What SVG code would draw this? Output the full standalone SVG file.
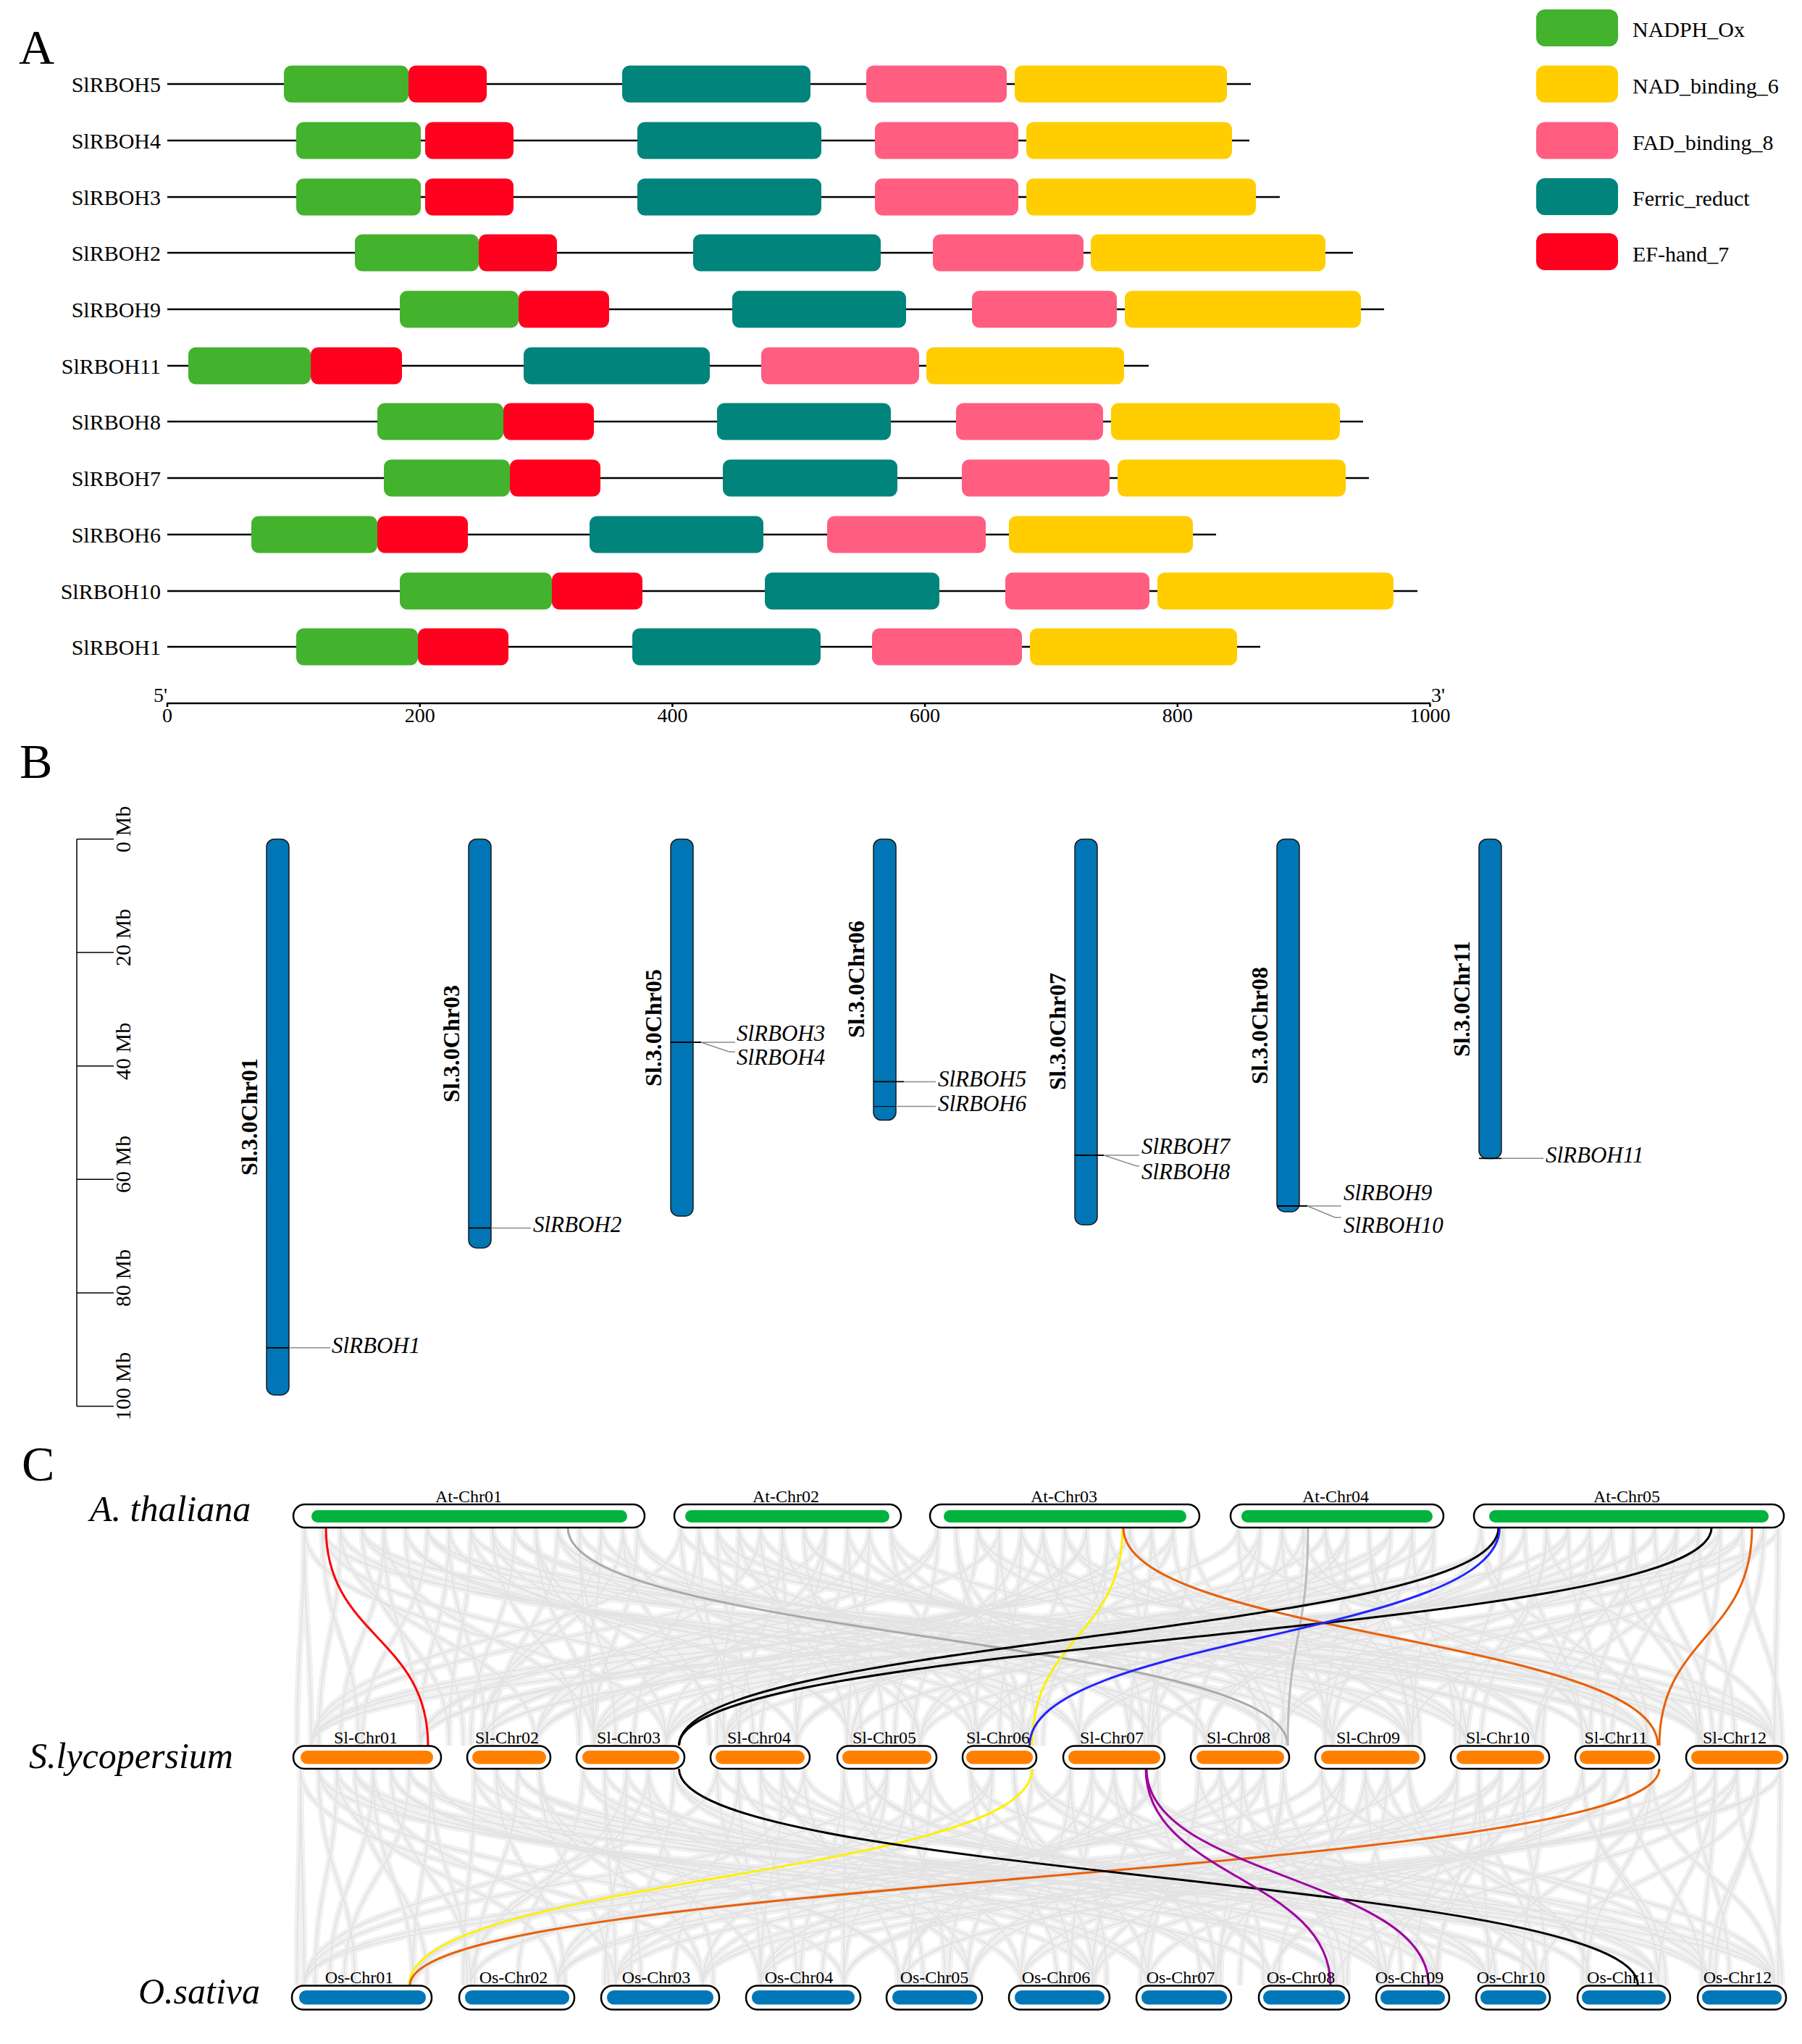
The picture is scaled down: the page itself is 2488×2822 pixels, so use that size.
<svg xmlns="http://www.w3.org/2000/svg" xmlns:xlink="http://www.w3.org/1999/xlink" width="2488" height="2822" viewBox="0 0 2488 2822">
<style>
text{font-family:"Liberation Serif","Times New Roman",serif;fill:#000}
.pl{font-size:68px}
.ra{font-size:30px;text-anchor:end}
.lg{font-size:30px}
.ax{font-size:28px;text-anchor:middle}
.bl{stroke:#000;stroke-width:2.5;fill:none}
.g{fill:#43B22D}.r{fill:#FF001E}.t{fill:#00847B}.p{fill:#FF5E80}.y{fill:#FFCD00}
.chr{fill:#0076B6;stroke:#1a1a1a;stroke-width:1.5}
.cl{font-size:32px;font-weight:bold;text-anchor:middle}
.gl{font-size:31px;font-style:italic}
.mb{font-size:30px}
.gk{stroke:#000;stroke-width:1.8}
.gc{stroke:#8c8c8c;stroke-width:1.5;fill:none}
.sp{font-size:50px;font-style:italic}
.cn{font-size:24px;text-anchor:middle}
.ob{fill:#fff;stroke:#000;stroke-width:2.5}
.at{fill:#00B33C}.sl{fill:#FF8000}.os{fill:#0077B7}
.bgw{fill:none;stroke:#f1f1f1;stroke-width:9}
.bgt{fill:none;stroke:#e3e3e3;stroke-width:2}
.cc{fill:none;stroke-width:3}
</style>
<defs>
<path id="b1a" d="M420 2109C420 2260 430 2260 430 2410M445 2109C445 2260 1100 2260 1100 2410M470 2109C470 2260 1665 2260 1665 2410M500 2109C500 2260 2275 2260 2275 2410M530 2109C530 2260 820 2260 820 2410M560 2109C560 2260 1415 2260 1415 2410M590 2109C590 2260 2025 2260 2025 2410M620 2109C620 2260 580 2260 580 2410M650 2109C650 2260 1175 2260 1175 2410M680 2109C680 2260 1760 2260 1760 2410M710 2109C710 2260 2350 2260 2350 2410M740 2109C740 2260 920 2260 920 2410M770 2109C770 2260 1490 2260 1490 2410M800 2109C800 2260 2120 2260 2120 2410M830 2109C830 2260 665 2260 665 2410M860 2109C860 2260 1270 2260 1270 2410M880 2109C880 2260 1840 2260 1840 2410M940 2109C940 2260 2450 2260 2450 2410M965 2109C965 2260 1000 2260 1000 2410M990 2109C990 2260 1590 2260 1590 2410M1020 2109C1020 2260 2195 2260 2195 2410M1050 2109C1050 2260 740 2260 740 2410M1080 2109C1080 2260 1345 2260 1345 2410M1110 2109C1110 2260 1945 2260 1945 2410M1140 2109C1140 2260 430 2260 430 2410M1170 2109C1170 2260 1100 2260 1100 2410M1200 2109C1200 2260 1665 2260 1665 2410M1230 2109C1230 2260 2275 2260 2275 2410M1295 2109C1295 2260 820 2260 820 2410M1320 2109C1320 2260 1415 2260 1415 2410M1350 2109C1350 2260 2025 2260 2025 2410M1380 2109C1380 2260 580 2260 580 2410M1410 2109C1410 2260 1175 2260 1175 2410M1440 2109C1440 2260 1760 2260 1760 2410M1470 2109C1470 2260 2350 2260 2350 2410M1500 2109C1500 2260 920 2260 920 2410M1530 2109C1530 2260 1490 2260 1490 2410M1560 2109C1560 2260 2120 2260 2120 2410M1590 2109C1590 2260 665 2260 665 2410M1620 2109C1620 2260 1270 2260 1270 2410M1645 2109C1645 2260 1840 2260 1840 2410M1710 2109C1710 2260 2450 2260 2450 2410M1740 2109C1740 2260 1000 2260 1000 2410M1770 2109C1770 2260 1590 2260 1590 2410M1800 2109C1800 2260 2195 2260 2195 2410M1830 2109C1830 2260 740 2260 740 2410M1860 2109C1860 2260 1345 2260 1345 2410M1890 2109C1890 2260 1945 2260 1945 2410M1920 2109C1920 2260 430 2260 430 2410M1950 2109C1950 2260 1100 2260 1100 2410M1980 2109C1980 2260 1665 2260 1665 2410M2045 2109C2045 2260 2275 2260 2275 2410M2075 2109C2075 2260 820 2260 820 2410M2105 2109C2105 2260 1415 2260 1415 2410M2135 2109C2135 2260 2025 2260 2025 2410M2165 2109C2165 2260 580 2260 580 2410M2195 2109C2195 2260 1175 2260 1175 2410M2225 2109C2225 2260 1760 2260 1760 2410M2255 2109C2255 2260 2350 2260 2350 2410M2285 2109C2285 2260 920 2260 920 2410M2315 2109C2315 2260 1490 2260 1490 2410M2345 2109C2345 2260 2120 2260 2120 2410M2375 2109C2375 2260 665 2260 665 2410M2405 2109C2405 2260 1270 2260 1270 2410M2435 2109C2435 2260 1840 2260 1840 2410M2455 2109C2455 2260 2450 2260 2450 2410"/>
<path id="b1b" d="M420 2109C420 2260 920 2260 920 2410M445 2109C445 2260 1840 2260 1840 2410M470 2109C470 2260 740 2260 740 2410M500 2109C500 2260 1665 2260 1665 2410M530 2109C530 2260 580 2260 580 2410M560 2109C560 2260 1490 2260 1490 2410M590 2109C590 2260 2450 2260 2450 2410M620 2109C620 2260 1345 2260 1345 2410M650 2109C650 2260 2275 2260 2275 2410M680 2109C680 2260 1175 2260 1175 2410M710 2109C710 2260 2120 2260 2120 2410M740 2109C740 2260 1000 2260 1000 2410M770 2109C770 2260 1945 2260 1945 2410M800 2109C800 2260 820 2260 820 2410M830 2109C830 2260 1760 2260 1760 2410M860 2109C860 2260 665 2260 665 2410M880 2109C880 2260 1590 2260 1590 2410M940 2109C940 2260 430 2260 430 2410M965 2109C965 2260 1415 2260 1415 2410M990 2109C990 2260 2350 2260 2350 2410M1020 2109C1020 2260 1270 2260 1270 2410M1050 2109C1050 2260 2195 2260 2195 2410M1080 2109C1080 2260 1100 2260 1100 2410M1110 2109C1110 2260 2025 2260 2025 2410M1140 2109C1140 2260 920 2260 920 2410M1170 2109C1170 2260 1840 2260 1840 2410M1200 2109C1200 2260 740 2260 740 2410M1230 2109C1230 2260 1665 2260 1665 2410M1295 2109C1295 2260 580 2260 580 2410M1320 2109C1320 2260 1490 2260 1490 2410M1350 2109C1350 2260 2450 2260 2450 2410M1380 2109C1380 2260 1345 2260 1345 2410M1410 2109C1410 2260 2275 2260 2275 2410M1440 2109C1440 2260 1175 2260 1175 2410M1470 2109C1470 2260 2120 2260 2120 2410M1500 2109C1500 2260 1000 2260 1000 2410M1530 2109C1530 2260 1945 2260 1945 2410M1560 2109C1560 2260 820 2260 820 2410M1590 2109C1590 2260 1760 2260 1760 2410M1620 2109C1620 2260 665 2260 665 2410M1645 2109C1645 2260 1590 2260 1590 2410M1710 2109C1710 2260 430 2260 430 2410M1740 2109C1740 2260 1415 2260 1415 2410M1770 2109C1770 2260 2350 2260 2350 2410M1800 2109C1800 2260 1270 2260 1270 2410M1830 2109C1830 2260 2195 2260 2195 2410M1860 2109C1860 2260 1100 2260 1100 2410M1890 2109C1890 2260 2025 2260 2025 2410M1920 2109C1920 2260 920 2260 920 2410M1950 2109C1950 2260 1840 2260 1840 2410M1980 2109C1980 2260 740 2260 740 2410M2045 2109C2045 2260 1665 2260 1665 2410M2075 2109C2075 2260 580 2260 580 2410M2105 2109C2105 2260 1490 2260 1490 2410M2135 2109C2135 2260 2450 2260 2450 2410M2165 2109C2165 2260 1345 2260 1345 2410M2195 2109C2195 2260 2275 2260 2275 2410M2225 2109C2225 2260 1175 2260 1175 2410M2255 2109C2255 2260 2120 2260 2120 2410M2285 2109C2285 2260 1000 2260 1000 2410M2315 2109C2315 2260 1945 2260 1945 2410M2345 2109C2345 2260 820 2260 820 2410M2375 2109C2375 2260 1760 2260 1760 2410M2405 2109C2405 2260 665 2260 665 2410M2435 2109C2435 2260 1590 2260 1590 2410M2455 2109C2455 2260 430 2260 430 2410"/>
<path id="b1c" d="M420 2109C420 2260 410 2260 410 2410M445 2109C445 2260 495 2260 495 2410M470 2109C470 2260 440 2260 440 2410M500 2109C500 2260 620 2260 620 2410M530 2109C530 2260 470 2260 470 2410M560 2109C560 2260 640 2260 640 2410M590 2109C590 2260 500 2260 500 2410M620 2109C620 2260 670 2260 670 2410M650 2109C650 2260 620 2260 620 2410M680 2109C680 2260 800 2260 800 2410M710 2109C710 2260 650 2260 650 2410M740 2109C740 2260 820 2260 820 2410M770 2109C770 2260 680 2260 680 2410M800 2109C800 2260 850 2260 850 2410M830 2109C830 2260 800 2260 800 2410M860 2109C860 2260 980 2260 980 2410M880 2109C880 2260 820 2260 820 2410M940 2109C940 2260 1020 2260 1020 2410M965 2109C965 2260 875 2260 875 2410M990 2109C990 2260 1040 2260 1040 2410M1020 2109C1020 2260 990 2260 990 2410M1050 2109C1050 2260 1170 2260 1170 2410M1080 2109C1080 2260 1020 2260 1020 2410M1110 2109C1110 2260 1190 2260 1190 2410M1140 2109C1140 2260 1050 2260 1050 2410M1170 2109C1170 2260 1220 2260 1220 2410M1200 2109C1200 2260 1170 2260 1170 2410M1230 2109C1230 2260 1350 2260 1350 2410M1295 2109C1295 2260 1235 2260 1235 2410M1320 2109C1320 2260 1400 2260 1400 2410M1350 2109C1350 2260 1260 2260 1260 2410M1380 2109C1380 2260 1430 2260 1430 2410M1410 2109C1410 2260 1380 2260 1380 2410M1440 2109C1440 2260 1560 2260 1560 2410M1470 2109C1470 2260 1410 2260 1410 2410M1500 2109C1500 2260 1580 2260 1580 2410M1530 2109C1530 2260 1440 2260 1440 2410M1560 2109C1560 2260 1600 2260 1600 2410M1590 2109C1590 2260 1560 2260 1560 2410M1620 2109C1620 2260 1740 2260 1740 2410M1645 2109C1645 2260 1585 2260 1585 2410M1710 2109C1710 2260 1775 2260 1775 2410M1740 2109C1740 2260 1650 2260 1650 2410M1770 2109C1770 2260 1830 2260 1830 2410M1800 2109C1800 2260 1770 2260 1770 2410M1830 2109C1830 2260 1950 2260 1950 2410M1860 2109C1860 2260 1830 2260 1830 2410M1890 2109C1890 2260 1960 2260 1960 2410M1920 2109C1920 2260 1830 2260 1830 2410M1950 2109C1950 2260 2010 2260 2010 2410M1980 2109C1980 2260 1950 2260 1950 2410M2045 2109C2045 2260 2185 2260 2185 2410M2075 2109C2075 2260 2015 2260 2015 2410M2105 2109C2105 2260 2185 2260 2185 2410M2135 2109C2135 2260 2045 2260 2045 2410M2165 2109C2165 2260 2215 2260 2215 2410M2195 2109C2195 2260 2130 2260 2130 2410M2225 2109C2225 2260 2345 2260 2345 2410M2255 2109C2255 2260 2195 2260 2195 2410M2285 2109C2285 2260 2365 2260 2365 2410M2315 2109C2315 2260 2225 2260 2225 2410M2345 2109C2345 2260 2395 2260 2395 2410M2375 2109C2375 2260 2345 2260 2345 2410M2405 2109C2405 2260 2460 2260 2460 2410M2435 2109C2435 2260 2375 2260 2375 2410M2455 2109C2455 2260 2450 2260 2450 2410"/>
<path id="b2a" d="M415 2442C415 2592 420 2592 420 2741M440 2442C440 2592 1165 2592 1165 2741M465 2442C465 2592 1755 2592 1755 2741M490 2442C490 2592 2290 2592 2290 2741M515 2442C515 2592 850 2592 850 2741M540 2442C540 2592 1510 2592 1510 2741M565 2442C565 2592 2055 2592 2055 2741M595 2442C595 2592 570 2592 570 2741M655 2442C655 2592 1245 2592 1245 2741M685 2442C685 2592 1845 2592 1845 2741M715 2442C715 2592 2360 2592 2360 2741M745 2442C745 2592 970 2592 970 2741M805 2442C805 2592 1585 2592 1585 2741M835 2442C835 2592 2125 2592 2125 2741M865 2442C865 2592 650 2592 650 2741M895 2442C895 2592 1340 2592 1340 2741M930 2442C930 2592 1915 2592 1915 2741M990 2442C990 2592 2450 2592 2450 2741M1020 2442C1020 2592 1050 2592 1050 2741M1050 2442C1050 2592 1680 2592 1680 2741M1080 2442C1080 2592 2195 2592 2195 2741M1110 2442C1110 2592 770 2592 770 2741M1165 2442C1165 2592 1410 2592 1410 2741M1195 2442C1195 2592 1985 2592 1985 2741M1225 2442C1225 2592 420 2592 420 2741M1255 2442C1255 2592 1165 2592 1165 2741M1285 2442C1285 2592 1755 2592 1755 2741M1340 2442C1340 2592 2290 2592 2290 2741M1370 2442C1370 2592 850 2592 850 2741M1400 2442C1400 2592 1510 2592 1510 2741M1425 2442C1425 2592 2055 2592 2055 2741M1478 2442C1478 2592 570 2592 570 2741M1508 2442C1508 2592 1245 2592 1245 2741M1538 2442C1538 2592 1845 2592 1845 2741M1568 2442C1568 2592 2360 2592 2360 2741M1598 2442C1598 2592 970 2592 970 2741M1655 2442C1655 2592 1585 2592 1585 2741M1685 2442C1685 2592 2125 2592 2125 2741M1715 2442C1715 2592 650 2592 650 2741M1745 2442C1745 2592 1340 2592 1340 2741M1772 2442C1772 2592 1915 2592 1915 2741M1825 2442C1825 2592 2450 2592 2450 2741M1855 2442C1855 2592 1050 2592 1050 2741M1885 2442C1885 2592 1680 2592 1680 2741M1915 2442C1915 2592 2195 2592 2195 2741M1945 2442C1945 2592 770 2592 770 2741M2012 2442C2012 2592 1410 2592 1410 2741M2042 2442C2042 2592 1985 2592 1985 2741M2072 2442C2072 2592 420 2592 420 2741M2102 2442C2102 2592 1165 2592 1165 2741M2132 2442C2132 2592 1755 2592 1755 2741M2185 2442C2185 2592 2290 2592 2290 2741M2215 2442C2215 2592 850 2592 850 2741M2245 2442C2245 2592 1510 2592 1510 2741M2280 2442C2280 2592 2055 2592 2055 2741M2338 2442C2338 2592 570 2592 570 2741M2368 2442C2368 2592 1245 2592 1245 2741M2398 2442C2398 2592 1845 2592 1845 2741M2428 2442C2428 2592 2360 2592 2360 2741M2458 2442C2458 2592 970 2592 970 2741"/>
<path id="b2b" d="M415 2442C415 2592 970 2592 970 2741M440 2442C440 2592 1915 2592 1915 2741M465 2442C465 2592 770 2592 770 2741M490 2442C490 2592 1755 2592 1755 2741M515 2442C515 2592 570 2592 570 2741M540 2442C540 2592 1585 2592 1585 2741M565 2442C565 2592 2450 2592 2450 2741M595 2442C595 2592 1410 2592 1410 2741M655 2442C655 2592 2290 2592 2290 2741M685 2442C685 2592 1245 2592 1245 2741M715 2442C715 2592 2125 2592 2125 2741M745 2442C745 2592 1050 2592 1050 2741M805 2442C805 2592 1985 2592 1985 2741M835 2442C835 2592 850 2592 850 2741M865 2442C865 2592 1845 2592 1845 2741M895 2442C895 2592 650 2592 650 2741M930 2442C930 2592 1680 2592 1680 2741M990 2442C990 2592 420 2592 420 2741M1020 2442C1020 2592 1510 2592 1510 2741M1050 2442C1050 2592 2360 2592 2360 2741M1080 2442C1080 2592 1340 2592 1340 2741M1110 2442C1110 2592 2195 2592 2195 2741M1165 2442C1165 2592 1165 2592 1165 2741M1195 2442C1195 2592 2055 2592 2055 2741M1225 2442C1225 2592 970 2592 970 2741M1255 2442C1255 2592 1915 2592 1915 2741M1285 2442C1285 2592 770 2592 770 2741M1340 2442C1340 2592 1755 2592 1755 2741M1370 2442C1370 2592 570 2592 570 2741M1400 2442C1400 2592 1585 2592 1585 2741M1425 2442C1425 2592 2450 2592 2450 2741M1478 2442C1478 2592 1410 2592 1410 2741M1508 2442C1508 2592 2290 2592 2290 2741M1538 2442C1538 2592 1245 2592 1245 2741M1568 2442C1568 2592 2125 2592 2125 2741M1598 2442C1598 2592 1050 2592 1050 2741M1655 2442C1655 2592 1985 2592 1985 2741M1685 2442C1685 2592 850 2592 850 2741M1715 2442C1715 2592 1845 2592 1845 2741M1745 2442C1745 2592 650 2592 650 2741M1772 2442C1772 2592 1680 2592 1680 2741M1825 2442C1825 2592 420 2592 420 2741M1855 2442C1855 2592 1510 2592 1510 2741M1885 2442C1885 2592 2360 2592 2360 2741M1915 2442C1915 2592 1340 2592 1340 2741M1945 2442C1945 2592 2195 2592 2195 2741M2012 2442C2012 2592 1165 2592 1165 2741M2042 2442C2042 2592 2055 2592 2055 2741M2072 2442C2072 2592 970 2592 970 2741M2102 2442C2102 2592 1915 2592 1915 2741M2132 2442C2132 2592 770 2592 770 2741M2185 2442C2185 2592 1755 2592 1755 2741M2215 2442C2215 2592 570 2592 570 2741M2245 2442C2245 2592 1585 2592 1585 2741M2280 2442C2280 2592 2450 2592 2450 2741M2338 2442C2338 2592 1410 2592 1410 2741M2368 2442C2368 2592 2290 2592 2290 2741M2398 2442C2398 2592 1245 2592 1245 2741M2428 2442C2428 2592 2125 2592 2125 2741M2458 2442C2458 2592 1050 2592 1050 2741"/>
<path id="b2c" d="M415 2442C415 2592 410 2592 410 2741M440 2442C440 2592 490 2592 490 2741M465 2442C465 2592 435 2592 435 2741M490 2442C490 2592 590 2592 590 2741M515 2442C515 2592 455 2592 455 2741M540 2442C540 2592 650 2592 650 2741M565 2442C565 2592 475 2592 475 2741M595 2442C595 2592 645 2592 645 2741M655 2442C655 2592 640 2592 640 2741M685 2442C685 2592 780 2592 780 2741M715 2442C715 2592 655 2592 655 2741M745 2442C745 2592 840 2592 840 2741M805 2442C805 2592 715 2592 715 2741M835 2442C835 2592 885 2592 885 2741M865 2442C865 2592 835 2592 835 2741M895 2442C895 2592 985 2592 985 2741M930 2442C930 2592 870 2592 870 2741M990 2442C990 2592 1070 2592 1070 2741M1020 2442C1020 2592 930 2592 930 2741M1050 2442C1050 2592 1100 2592 1100 2741M1080 2442C1080 2592 1050 2592 1050 2741M1110 2442C1110 2592 1240 2592 1240 2741M1165 2442C1165 2592 1105 2592 1105 2741M1195 2442C1195 2592 1275 2592 1275 2741M1225 2442C1225 2592 1135 2592 1135 2741M1255 2442C1255 2592 1305 2592 1305 2741M1285 2442C1285 2592 1255 2592 1255 2741M1340 2442C1340 2592 1460 2592 1460 2741M1370 2442C1370 2592 1310 2592 1310 2741M1400 2442C1400 2592 1480 2592 1480 2741M1425 2442C1425 2592 1335 2592 1335 2741M1478 2442C1478 2592 1528 2592 1528 2741M1508 2442C1508 2592 1478 2592 1478 2741M1538 2442C1538 2592 1658 2592 1658 2741M1568 2442C1568 2592 1508 2592 1508 2741M1598 2442C1598 2592 1678 2592 1678 2741M1655 2442C1655 2592 1575 2592 1575 2741M1685 2442C1685 2592 1745 2592 1745 2741M1715 2442C1715 2592 1685 2592 1685 2741M1745 2442C1745 2592 1855 2592 1855 2741M1772 2442C1772 2592 1712 2592 1712 2741M1825 2442C1825 2592 1905 2592 1905 2741M1855 2442C1855 2592 1765 2592 1765 2741M1885 2442C1885 2592 1935 2592 1935 2741M1915 2442C1915 2592 1860 2592 1860 2741M1945 2442C1945 2592 2065 2592 2065 2741M2012 2442C2012 2592 1952 2592 1952 2741M2042 2442C2042 2592 2122 2592 2122 2741M2072 2442C2072 2592 1982 2592 1982 2741M2102 2442C2102 2592 2135 2592 2135 2741M2132 2442C2132 2592 2102 2592 2102 2741M2185 2442C2185 2592 2300 2592 2300 2741M2215 2442C2215 2592 2185 2592 2185 2741M2245 2442C2245 2592 2350 2592 2350 2741M2280 2442C2280 2592 2190 2592 2190 2741M2338 2442C2338 2592 2388 2592 2388 2741M2368 2442C2368 2592 2350 2592 2350 2741M2398 2442C2398 2592 2460 2592 2460 2741M2428 2442C2428 2592 2368 2592 2368 2741M2458 2442C2458 2592 2455 2592 2455 2741"/>
</defs>

<!-- Panel labels -->
<text class="pl" x="26" y="88">A</text>
<text class="pl" x="27" y="1074">B</text>
<text class="pl" x="30" y="2044">C</text>

<!-- ============ Panel A ============ -->
<g id="panelA">
<g id="SlRBOH5"><text class="ra" x="222" y="127">SlRBOH5</text><line class="bl" x1="231" y1="116" x2="1727" y2="116"/>
<rect class="g" x="392" y="90.5" width="172" height="51" rx="10"/><rect class="r" x="564" y="90.5" width="108" height="51" rx="10"/><rect class="t" x="859" y="90.5" width="260" height="51" rx="10"/><rect class="p" x="1196" y="90.5" width="194" height="51" rx="10"/><rect class="y" x="1401" y="90.5" width="293" height="51" rx="10"/></g>
<g id="SlRBOH4"><text class="ra" x="222" y="205">SlRBOH4</text><line class="bl" x1="231" y1="194" x2="1725" y2="194"/>
<rect class="g" x="409" y="168.5" width="172" height="51" rx="10"/><rect class="r" x="587" y="168.5" width="122" height="51" rx="10"/><rect class="t" x="880" y="168.5" width="254" height="51" rx="10"/><rect class="p" x="1208" y="168.5" width="198" height="51" rx="10"/><rect class="y" x="1417" y="168.5" width="284" height="51" rx="10"/></g>
<g id="SlRBOH3"><text class="ra" x="222" y="283">SlRBOH3</text><line class="bl" x1="231" y1="272" x2="1767" y2="272"/>
<rect class="g" x="409" y="246.5" width="172" height="51" rx="10"/><rect class="r" x="587" y="246.5" width="122" height="51" rx="10"/><rect class="t" x="880" y="246.5" width="254" height="51" rx="10"/><rect class="p" x="1208" y="246.5" width="198" height="51" rx="10"/><rect class="y" x="1417" y="246.5" width="317" height="51" rx="10"/></g>
<g id="SlRBOH2"><text class="ra" x="222" y="360">SlRBOH2</text><line class="bl" x1="231" y1="349" x2="1868" y2="349"/>
<rect class="g" x="490" y="323.5" width="171" height="51" rx="10"/><rect class="r" x="661" y="323.5" width="108" height="51" rx="10"/><rect class="t" x="957" y="323.5" width="259" height="51" rx="10"/><rect class="p" x="1288" y="323.5" width="208" height="51" rx="10"/><rect class="y" x="1506" y="323.5" width="324" height="51" rx="10"/></g>
<g id="SlRBOH9"><text class="ra" x="222" y="438">SlRBOH9</text><line class="bl" x1="231" y1="427" x2="1911" y2="427"/>
<rect class="g" x="552" y="401.5" width="164" height="51" rx="10"/><rect class="r" x="716" y="401.5" width="125" height="51" rx="10"/><rect class="t" x="1011" y="401.5" width="240" height="51" rx="10"/><rect class="p" x="1342" y="401.5" width="200" height="51" rx="10"/><rect class="y" x="1553" y="401.5" width="326" height="51" rx="10"/></g>
<g id="SlRBOH11"><text class="ra" x="222" y="516">SlRBOH11</text><line class="bl" x1="231" y1="505" x2="1586" y2="505"/>
<rect class="g" x="260" y="479.5" width="169" height="51" rx="10"/><rect class="r" x="429" y="479.5" width="126" height="51" rx="10"/><rect class="t" x="723" y="479.5" width="257" height="51" rx="10"/><rect class="p" x="1051" y="479.5" width="218" height="51" rx="10"/><rect class="y" x="1279" y="479.5" width="273" height="51" rx="10"/></g>
<g id="SlRBOH8"><text class="ra" x="222" y="593">SlRBOH8</text><line class="bl" x1="231" y1="582" x2="1882" y2="582"/>
<rect class="g" x="521" y="556.5" width="174" height="51" rx="10"/><rect class="r" x="695" y="556.5" width="125" height="51" rx="10"/><rect class="t" x="990" y="556.5" width="240" height="51" rx="10"/><rect class="p" x="1320" y="556.5" width="203" height="51" rx="10"/><rect class="y" x="1534" y="556.5" width="316" height="51" rx="10"/></g>
<g id="SlRBOH7"><text class="ra" x="222" y="671">SlRBOH7</text><line class="bl" x1="231" y1="660" x2="1890" y2="660"/>
<rect class="g" x="530" y="634.5" width="174" height="51" rx="10"/><rect class="r" x="704" y="634.5" width="125" height="51" rx="10"/><rect class="t" x="998" y="634.5" width="241" height="51" rx="10"/><rect class="p" x="1328" y="634.5" width="204" height="51" rx="10"/><rect class="y" x="1543" y="634.5" width="315" height="51" rx="10"/></g>
<g id="SlRBOH6"><text class="ra" x="222" y="749">SlRBOH6</text><line class="bl" x1="231" y1="738" x2="1679" y2="738"/>
<rect class="g" x="347" y="712.5" width="174" height="51" rx="10"/><rect class="r" x="521" y="712.5" width="125" height="51" rx="10"/><rect class="t" x="814" y="712.5" width="240" height="51" rx="10"/><rect class="p" x="1142" y="712.5" width="219" height="51" rx="10"/><rect class="y" x="1393" y="712.5" width="254" height="51" rx="10"/></g>
<g id="SlRBOH10"><text class="ra" x="222" y="827">SlRBOH10</text><line class="bl" x1="231" y1="816" x2="1957" y2="816"/>
<rect class="g" x="552" y="790.5" width="210" height="51" rx="10"/><rect class="r" x="762" y="790.5" width="125" height="51" rx="10"/><rect class="t" x="1056" y="790.5" width="241" height="51" rx="10"/><rect class="p" x="1388" y="790.5" width="199" height="51" rx="10"/><rect class="y" x="1598" y="790.5" width="326" height="51" rx="10"/></g>
<g id="SlRBOH1"><text class="ra" x="222" y="904">SlRBOH1</text><line class="bl" x1="231" y1="893" x2="1740" y2="893"/>
<rect class="g" x="409" y="867.5" width="168" height="51" rx="10"/><rect class="r" x="577" y="867.5" width="125" height="51" rx="10"/><rect class="t" x="873" y="867.5" width="260" height="51" rx="10"/><rect class="p" x="1204" y="867.5" width="207" height="51" rx="10"/><rect class="y" x="1422" y="867.5" width="286" height="51" rx="10"/></g>

<g id="axisA">
<line class="bl" x1="230" y1="971" x2="1975" y2="971"/>
<path class="bl" d="M231 971V976M579.7 971V976M928.4 971V976M1277.1 971V976M1625.8 971V976M1974.5 971V976"/>
<text class="ax" x="231" y="997">0</text><text class="ax" x="579.7" y="997">200</text><text class="ax" x="928.4" y="997">400</text><text class="ax" x="1277.1" y="997">600</text><text class="ax" x="1625.8" y="997">800</text><text class="ax" x="1974.5" y="997">1000</text>
<text style="font-size:28px;text-anchor:end" x="231" y="969">5'</text>
<text style="font-size:28px" x="1976" y="969">3'</text>
</g>

<g id="legend">
<rect class="g" x="2121" y="13" width="113" height="51" rx="12"/><text class="lg" x="2254" y="51">NADPH_Ox</text>
<rect class="y" x="2121" y="90.5" width="113" height="51" rx="12"/><text class="lg" x="2254" y="129">NAD_binding_6</text>
<rect class="p" x="2121" y="168.5" width="113" height="51" rx="12"/><text class="lg" x="2254" y="207">FAD_binding_8</text>
<rect class="t" x="2121" y="246" width="113" height="51" rx="12"/><text class="lg" x="2254" y="284">Ferric_reduct</text>
<rect class="r" x="2121" y="322" width="113" height="51" rx="12"/><text class="lg" x="2254" y="361">EF-hand_7</text>
</g>
</g>

<!-- ============ Panel B ============ -->
<g id="panelB">
<g id="scale">
<path d="M106 1158.4V1941.6M106 1158.4H157M106 1315H157M106 1471.7H157M106 1628.3H157M106 1785H157M106 1941.6H157" stroke="#000" stroke-width="1.5" fill="none"/>
<text class="mb" transform="translate(180 1177) rotate(-90)">0 Mb</text>
<text class="mb" transform="translate(180 1334) rotate(-90)">20 Mb</text>
<text class="mb" transform="translate(180 1491) rotate(-90)">40 Mb</text>
<text class="mb" transform="translate(180 1647) rotate(-90)">60 Mb</text>
<text class="mb" transform="translate(180 1804) rotate(-90)">80 Mb</text>
<text class="mb" transform="translate(180 1961) rotate(-90)">100 Mb</text>
</g>
<g id="Chr01"><rect class="chr" x="368" y="1158.4" width="31" height="767.6" rx="11"/>
<text class="cl" transform="translate(355 1542) rotate(-90)">Sl.3.0Chr01</text>
<line class="gk" x1="368" y1="1860.8" x2="399" y2="1860.8"/><line class="gc" x1="399" y1="1860.8" x2="456" y2="1860.8"/>
<text class="gl" x="458" y="1868">SlRBOH1</text></g>
<g id="Chr03"><rect class="chr" x="647" y="1158.4" width="31" height="564.6" rx="11"/>
<text class="cl" transform="translate(634 1441) rotate(-90)">Sl.3.0Chr03</text>
<line class="gk" x1="647" y1="1695.4" x2="678" y2="1695.4"/><line class="gc" x1="678" y1="1695.4" x2="733" y2="1695.4"/>
<text class="gl" x="736" y="1701">SlRBOH2</text></g>
<g id="Chr05"><rect class="chr" x="926" y="1158.4" width="31" height="520.6" rx="11"/>
<text class="cl" transform="translate(913 1419) rotate(-90)">Sl.3.0Chr05</text>
<line class="gk" x1="926" y1="1439" x2="968" y2="1439"/><path class="gc" d="M968 1439H1015M968 1439L1007 1452.3H1015"/>
<text class="gl" x="1017" y="1437">SlRBOH3</text><text class="gl" x="1017" y="1470">SlRBOH4</text></g>
<g id="Chr06"><rect class="chr" x="1206" y="1158.4" width="31" height="388.2" rx="11"/>
<text class="cl" transform="translate(1193 1352) rotate(-90)">Sl.3.0Chr06</text>
<line class="gk" x1="1206" y1="1493.4" x2="1248" y2="1493.4"/><line class="gc" x1="1248" y1="1493.4" x2="1292" y2="1493.4"/>
<line class="gk" x1="1206" y1="1527.6" x2="1237" y2="1527.6" style="stroke-width:1"/><line class="gc" x1="1237" y1="1527.6" x2="1292" y2="1527.6"/>
<text class="gl" x="1295" y="1500">SlRBOH5</text><text class="gl" x="1295" y="1534">SlRBOH6</text></g>
<g id="Chr07"><rect class="chr" x="1484" y="1158.4" width="31" height="532.6" rx="11"/>
<text class="cl" transform="translate(1471 1424) rotate(-90)">Sl.3.0Chr07</text>
<line class="gk" x1="1484" y1="1595" x2="1524" y2="1595"/><path class="gc" d="M1524 1595H1573M1524 1595L1569 1609.7H1573"/>
<text class="gl" x="1576" y="1593">SlRBOH7</text><text class="gl" x="1576" y="1628">SlRBOH8</text></g>
<g id="Chr08"><rect class="chr" x="1763" y="1158.4" width="31" height="514.6" rx="11"/>
<text class="cl" transform="translate(1750 1416) rotate(-90)">Sl.3.0Chr08</text>
<line class="gk" x1="1763" y1="1665" x2="1805" y2="1665"/><path class="gc" d="M1805 1665H1851.7M1805 1665L1843 1680.7H1851.7"/>
<text class="gl" x="1855" y="1657">SlRBOH9</text><text class="gl" x="1855" y="1702">SlRBOH10</text></g>
<g id="Chr11"><rect class="chr" x="2042" y="1158.4" width="31" height="441" rx="11"/>
<text class="cl" transform="translate(2029 1379) rotate(-90)">Sl.3.0Chr11</text>
<line class="gk" x1="2042" y1="1599.3" x2="2073" y2="1599.3"/><line class="gc" x1="2073" y1="1599.3" x2="2131" y2="1599.3"/>
<text class="gl" x="2134" y="1605">SlRBOH11</text></g>
</g>

<!-- ============ Panel C ============ -->
<g id="panelC">
<text class="sp" x="124" y="2100">A. thaliana</text>
<text class="sp" x="40" y="2441">S.lycopersium</text>
<text class="sp" x="191" y="2766">O.sativa</text>

<g id="connectors">
<g id="synteny-bg-wide" class="bgw">
<use xlink:href="#b1a"/><use xlink:href="#b1b"/><use xlink:href="#b1c"/><use xlink:href="#b2a"/><use xlink:href="#b2b"/><use xlink:href="#b2c"/>
</g>
<g id="synteny-bg-thin" class="bgt">
<use xlink:href="#b1a"/><use xlink:href="#b1b"/><use xlink:href="#b1c"/><use xlink:href="#b2a"/><use xlink:href="#b2b"/><use xlink:href="#b2c"/>
</g>
<g id="synteny-highlight">
<path class="cc" stroke="#FF0000" d="M450 2109C450 2260 591 2260 591 2410"/>
<path class="cc" stroke="#AAAAAA" d="M784 2109C784 2260 1778 2260 1778 2410"/>
<path class="cc" stroke="#BBBBBB" stroke-width="2.5" d="M1806 2109C1806 2260 1778 2260 1778 2410"/>
<path class="cc" stroke="#FFF000" d="M1550 2109C1550 2260 1425 2260 1425 2410"/>
<path class="cc" stroke="#FFF000" d="M1425 2442C1425 2592 565 2592 565 2741"/>
<path class="cc" stroke="#E8600A" d="M1551 2109C1551 2260 2289 2260 2289 2410"/>
<path class="cc" stroke="#E8600A" d="M2419 2109C2419 2260 2291 2260 2291 2410"/>
<path class="cc" stroke="#E8600A" d="M2291 2442C2291 2592 566 2592 566 2741"/>
<path class="cc" stroke="#000" d="M2069 2109C2069 2260 937.5 2260 937.5 2410"/>
<path class="cc" stroke="#000" d="M2363 2109C2363 2260 937.5 2260 937.5 2410"/>
<path class="cc" stroke="#000" d="M937.5 2442C937.5 2592 2261.5 2592 2261.5 2741"/>
<path class="cc" stroke="#2424FF" d="M2070.5 2109C2070.5 2260 1421.5 2260 1421.5 2410"/>
<path class="cc" stroke="#A000A0" d="M1582 2442C1582 2592 1837 2592 1837 2741"/>
<path class="cc" stroke="#A000A0" d="M1583 2442C1583 2592 1972.5 2592 1972.5 2741"/>
</g>
</g>

<g id="At-chromosomes">
<g id="At-Chr01"><text class="cn" x="647" y="2074">At-Chr01</text><rect class="ob" x="405" y="2077" width="485" height="32" rx="16"/><rect class="at" x="430" y="2085" width="436" height="17" rx="8.5"/></g>
<g id="At-Chr02"><text class="cn" x="1085" y="2074">At-Chr02</text><rect class="ob" x="931" y="2077" width="313" height="32" rx="16"/><rect class="at" x="946" y="2085" width="282" height="17" rx="8.5"/></g>
<g id="At-Chr03"><text class="cn" x="1469" y="2074">At-Chr03</text><rect class="ob" x="1284" y="2077" width="372" height="32" rx="16"/><rect class="at" x="1303" y="2085" width="335" height="17" rx="8.5"/></g>
<g id="At-Chr04"><text class="cn" x="1844" y="2074">At-Chr04</text><rect class="ob" x="1699" y="2077" width="294" height="32" rx="16"/><rect class="at" x="1714" y="2085" width="264" height="17" rx="8.5"/></g>
<g id="At-Chr05"><text class="cn" x="2246" y="2074">At-Chr05</text><rect class="ob" x="2035" y="2077" width="428" height="32" rx="16"/><rect class="at" x="2056" y="2085" width="386" height="17" rx="8.5"/></g>
</g>

<g id="Sl-chromosomes">
<g id="Sl-Chr01"><text class="cn" x="505" y="2407">Sl-Chr01</text><rect class="ob" x="405" y="2410.5" width="204" height="31.5" rx="15.5"/><rect class="sl" x="415" y="2417" width="183" height="18.5" rx="9"/></g>
<g id="Sl-Chr02"><text class="cn" x="700" y="2407">Sl-Chr02</text><rect class="ob" x="645" y="2410.5" width="115" height="31.5" rx="15.5"/><rect class="sl" x="652" y="2417" width="102" height="18.5" rx="9"/></g>
<g id="Sl-Chr03"><text class="cn" x="868" y="2407">Sl-Chr03</text><rect class="ob" x="796" y="2410.5" width="149" height="31.5" rx="15.5"/><rect class="sl" x="804" y="2417" width="134" height="18.5" rx="9"/></g>
<g id="Sl-Chr04"><text class="cn" x="1048" y="2407">Sl-Chr04</text><rect class="ob" x="981" y="2410.5" width="137" height="31.5" rx="15.5"/><rect class="sl" x="988" y="2417" width="123" height="18.5" rx="9"/></g>
<g id="Sl-Chr05"><text class="cn" x="1221" y="2407">Sl-Chr05</text><rect class="ob" x="1156" y="2410.5" width="137" height="31.5" rx="15.5"/><rect class="sl" x="1163" y="2417" width="123" height="18.5" rx="9"/></g>
<g id="Sl-Chr06"><text class="cn" x="1378" y="2407">Sl-Chr06</text><rect class="ob" x="1329" y="2410.5" width="102" height="31.5" rx="15.5"/><rect class="sl" x="1334" y="2417" width="92" height="18.5" rx="9"/></g>
<g id="Sl-Chr07"><text class="cn" x="1535" y="2407">Sl-Chr07</text><rect class="ob" x="1468" y="2410.5" width="140" height="31.5" rx="15.5"/><rect class="sl" x="1475" y="2417" width="127" height="18.5" rx="9"/></g>
<g id="Sl-Chr08"><text class="cn" x="1710" y="2407">Sl-Chr08</text><rect class="ob" x="1644" y="2410.5" width="136" height="31.5" rx="15.5"/><rect class="sl" x="1652" y="2417" width="121" height="18.5" rx="9"/></g>
<g id="Sl-Chr09"><text class="cn" x="1889" y="2407">Sl-Chr09</text><rect class="ob" x="1816" y="2410.5" width="151" height="31.5" rx="15.5"/><rect class="sl" x="1824" y="2417" width="136" height="18.5" rx="9"/></g>
<g id="Sl-Chr10"><text class="cn" x="2068" y="2407">Sl-Chr10</text><rect class="ob" x="2003" y="2410.5" width="136" height="31.5" rx="15.5"/><rect class="sl" x="2011" y="2417" width="121" height="18.5" rx="9"/></g>
<g id="Sl-Chr11"><text class="cn" x="2231" y="2407">Sl-Chr11</text><rect class="ob" x="2175" y="2410.5" width="116" height="31.5" rx="15.5"/><rect class="sl" x="2181" y="2417" width="104" height="18.5" rx="9"/></g>
<g id="Sl-Chr12"><text class="cn" x="2395" y="2407">Sl-Chr12</text><rect class="ob" x="2328" y="2410.5" width="140" height="31.5" rx="15.5"/><rect class="sl" x="2335" y="2417" width="127" height="18.5" rx="9"/></g>
</g>

<g id="Os-chromosomes">
<g id="Os-Chr01"><text class="cn" x="496" y="2738">Os-Chr01</text><rect class="ob" x="403" y="2741.5" width="193" height="33" rx="16"/><rect class="os" x="413" y="2748" width="175" height="19.5" rx="9.5"/></g>
<g id="Os-Chr02"><text class="cn" x="709" y="2738">Os-Chr02</text><rect class="ob" x="634" y="2741.5" width="159" height="33" rx="16"/><rect class="os" x="642" y="2748" width="144" height="19.5" rx="9.5"/></g>
<g id="Os-Chr03"><text class="cn" x="906" y="2738">Os-Chr03</text><rect class="ob" x="830" y="2741.5" width="163" height="33" rx="16"/><rect class="os" x="838" y="2748" width="147" height="19.5" rx="9.5"/></g>
<g id="Os-Chr04"><text class="cn" x="1103" y="2738">Os-Chr04</text><rect class="ob" x="1030" y="2741.5" width="158" height="33" rx="16"/><rect class="os" x="1038" y="2748" width="142" height="19.5" rx="9.5"/></g>
<g id="Os-Chr05"><text class="cn" x="1290" y="2738">Os-Chr05</text><rect class="ob" x="1224" y="2741.5" width="132" height="33" rx="16"/><rect class="os" x="1232" y="2748" width="117" height="19.5" rx="9.5"/></g>
<g id="Os-Chr06"><text class="cn" x="1458" y="2738">Os-Chr06</text><rect class="ob" x="1393" y="2741.5" width="139" height="33" rx="16"/><rect class="os" x="1401" y="2748" width="124" height="19.5" rx="9.5"/></g>
<g id="Os-Chr07"><text class="cn" x="1630" y="2738">Os-Chr07</text><rect class="ob" x="1569" y="2741.5" width="131" height="33" rx="16"/><rect class="os" x="1576" y="2748" width="118" height="19.5" rx="9.5"/></g>
<g id="Os-Chr08"><text class="cn" x="1796" y="2738">Os-Chr08</text><rect class="ob" x="1738" y="2741.5" width="125" height="33" rx="16"/><rect class="os" x="1744" y="2748" width="113" height="19.5" rx="9.5"/></g>
<g id="Os-Chr09"><text class="cn" x="1946" y="2738">Os-Chr09</text><rect class="ob" x="1900" y="2741.5" width="101" height="33" rx="16"/><rect class="os" x="1906" y="2748" width="89" height="19.5" rx="9.5"/></g>
<g id="Os-Chr10"><text class="cn" x="2086" y="2738">Os-Chr10</text><rect class="ob" x="2038" y="2741.5" width="102" height="33" rx="16"/><rect class="os" x="2044" y="2748" width="91" height="19.5" rx="9.5"/></g>
<g id="Os-Chr11"><text class="cn" x="2238" y="2738">Os-Chr11</text><rect class="ob" x="2178" y="2741.5" width="128" height="33" rx="16"/><rect class="os" x="2184" y="2748" width="116" height="19.5" rx="9.5"/></g>
<g id="Os-Chr12"><text class="cn" x="2399" y="2738">Os-Chr12</text><rect class="ob" x="2344" y="2741.5" width="122" height="33" rx="16"/><rect class="os" x="2350" y="2748" width="110" height="19.5" rx="9.5"/></g>
</g>
</g>
</svg>
